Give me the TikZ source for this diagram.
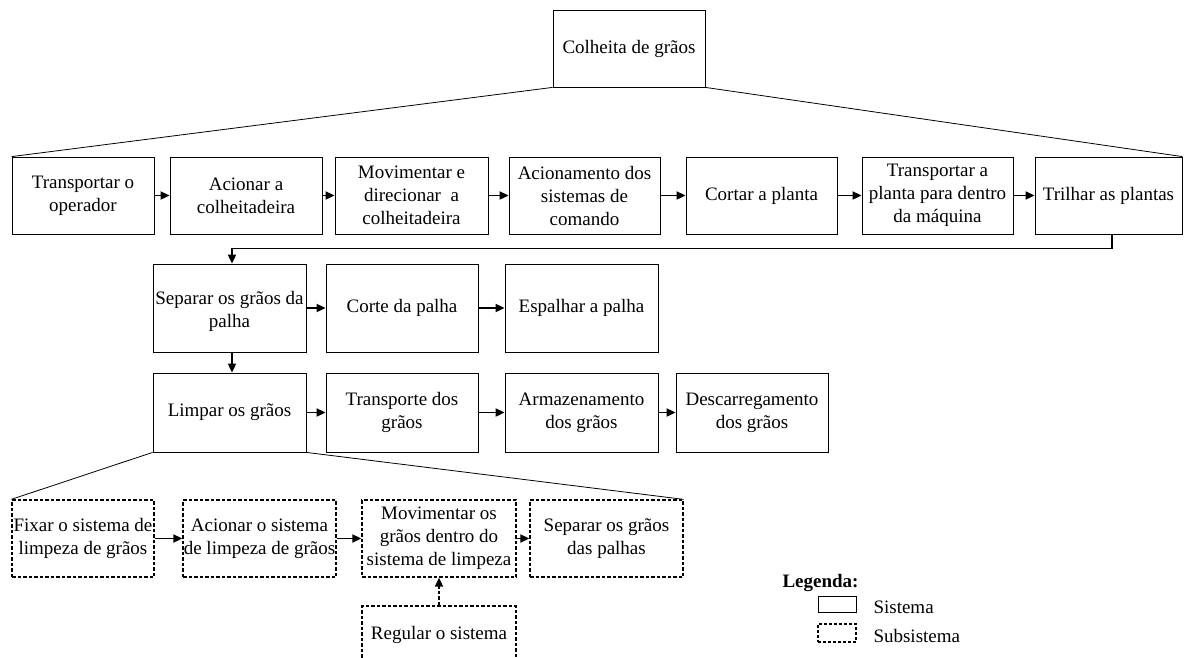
\documentclass[tikz,border=0pt]{standalone}
\usepackage{fontspec}
\setmainfont{Liberation Serif}
\usetikzlibrary{arrows.meta}
\begin{document}
\begin{tikzpicture}[x=1pt,y=-1pt,
  font=\fontsize{19pt}{23pt}\selectfont,
  sys/.style={draw,line width=0.8pt,inner sep=0pt,align=center},
  sub/.style={draw,line width=1.3pt,dash pattern=on 3.5pt off 2pt,inner sep=0pt,align=center},
  arr/.style={line width=1.8pt,-{Triangle[length=9pt,width=8pt]}},
  tree/.style={line width=0.8pt}]
\useasboundingbox (0,0) rectangle (1184,657);
\clip (0,0) rectangle (1184,657);
% root
\node[sys,minimum width=152pt,minimum height=77pt] (top) at (629,48.5) {Colheita de grãos};
% first level
\begin{scope}[every node/.append style={minimum height=77pt}]
\node[sys,minimum width=142pt] (b1) at (83,195.5) {Transportar o\\operador};
\node[sys,minimum width=152pt] (b2) at (246,195.5) {Acionar a\\colheitadeira};
\node[sys,minimum width=153pt] (b3) at (411.5,195.5) {Movimentar e\\direcionar~ a\\colheitadeira};
\node[sys,minimum width=151pt] (b4) at (584.5,195.5) {Acionamento dos\\sistemas de\\comando};
\node[sys,minimum width=151pt] (b5) at (761.5,195.5) {Cortar a planta};
\node[sys,minimum width=151pt] (b6) at (937.5,195.5) {Transportar a\\planta para dentro\\da máquina};
\node[sys,minimum width=147pt] (b7) at (1108.5,195.5) {Trilhar as plantas};
\end{scope}
% second row
\begin{scope}[every node/.append style={minimum height=88pt}]
\node[sys,minimum width=153pt] (c1) at (229.5,308) {\raisebox{-3pt}[\height][\depth]{\begin{tabular}{@{}c@{}}Separar os grãos da\\palha\end{tabular}}};
\node[sys,minimum width=152pt] (c2) at (402,308) {Corte da palha};
\node[sys,minimum width=153pt] (c3) at (581.5,308) {Espalhar a palha};
\end{scope}
% third row
\begin{scope}[every node/.append style={minimum height=79pt}]
\node[sys,minimum width=153pt] (d1) at (229.5,412.5) {Limpar os grãos};
\node[sys,minimum width=152pt] (d2) at (402,412.5) {Transporte dos\\grãos};
\node[sys,minimum width=153pt] (d3) at (581.5,412.5) {Armazenamento\\dos grãos};
\node[sys,minimum width=152pt] (d4) at (752,412.5) {Descarregamento\\dos grãos};
\end{scope}
% subsystems
\begin{scope}[every node/.append style={minimum height=77pt}]
\node[sub,minimum width=142pt] (e1) at (83,538.5) {Fixar o sistema de\\limpeza de grãos};
\node[sub,minimum width=153pt] (e2) at (259.5,538.5) {Acionar o sistema\\de limpeza de grãos};
\node[sub,minimum width=154pt] (e3) at (439,538.5) {Movimentar os\\grãos dentro do\\sistema de limpeza};
\node[sub,minimum width=153pt] (e4) at (606.5,538.5) {Separar os grãos\\das palhas};
\end{scope}
\node[sub,minimum width=154pt,minimum height=84pt] (e5) at (439,648) {\raisebox{13pt}[\height][\depth]{Regular o sistema}};
% tree lines
\draw[tree] (top.south west) -- (b1.north west);
\draw[tree] (top.south east) -- (b7.north east);
\draw[tree] (d1.south west) -- (e1.north west);
\draw[tree] (d1.south east) -- (e4.north east);
% flow arrows
\draw[arr] (b1) -- (b2);
\draw[arr] (b2) -- (b3);
\draw[arr] (b3) -- (b4);
\draw[arr] (b4) -- (b5);
\draw[arr] (b5) -- (b6);
\draw[arr] (b6) -- (b7);
\draw[arr] ([xshift=3.5pt]b7.south) -- ++(0,14) -| ([xshift=2.5pt]c1.north);
\draw[arr] (c1) -- (c2);
\draw[arr] (c2) -- (c3);
\draw[arr] ([xshift=2.5pt]c1.south) -- ([xshift=2.5pt]d1.north);
\draw[arr] (d1) -- (d2);
\draw[arr] (d2) -- (d3);
\draw[arr] (d3) -- (d4);
\draw[arr] (e1) -- (e2);
\draw[arr] (e2) -- (e3);
\draw[arr] (e3) -- (e4);
\draw[arr,dash pattern=on 3.5pt off 2pt] (e5) -- (e3);
% legend
\node[anchor=west,font=\fontsize{19pt}{23pt}\selectfont\bfseries] (lg) at (779,583) {Legenda:};
\node[draw,line width=0.8pt,minimum width=38pt,minimum height=16pt,inner sep=0pt] (ls) at (837,604) {};
\node[draw,line width=1.3pt,dash pattern=on 3pt off 2pt,minimum width=38pt,minimum height=18pt,inner sep=0pt] (lb) at (837,633) {};
\node[anchor=west] (lst) at (870,607) {Sistema};
\node[anchor=west] (lbt) at (870,636) {Subsistema};
\end{tikzpicture}
\end{document}
